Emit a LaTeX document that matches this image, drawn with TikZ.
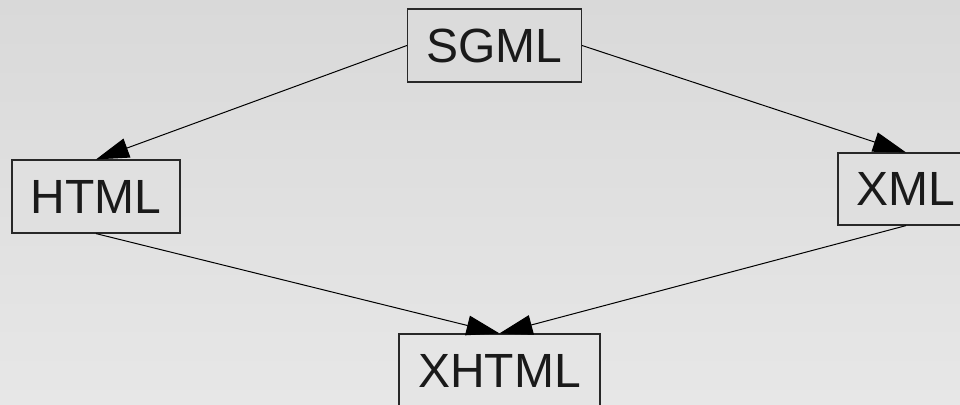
\documentclass[tikz,border=0pt]{standalone}
\usepackage{fontspec}
\setmainfont{Liberation Sans}
\usetikzlibrary{arrows.meta}
\definecolor{bgtop}{RGB}{217,217,217}
\definecolor{bgbot}{RGB}{231,231,231}
\definecolor{boxline}{RGB}{40,40,40}
\definecolor{txt}{RGB}{26,26,26}
\tikzset{
  box/.style={draw=boxline, line width=0.6pt, inner sep=0pt, text=txt,
    font=\fontsize{24}{28}\selectfont},
  conn/.style={draw=black, line width=0.5pt, -{Triangle[length=16.5pt,width=10pt]}}
}
\begin{document}
\begin{tikzpicture}[x=0.5pt,y=-0.5pt]
\shade[top color=bgtop, bottom color=bgbot] (0,0) rectangle (960,404);
\useasboundingbox (0,0) rectangle (960,404);
\node[box, fill={rgb,255:red,219;green,219;blue,219}, minimum width=87pt, minimum height=36.5pt] (sgml) at (494.5,45.5) {SGML};
\node[box, fill={rgb,255:red,224;green,224;blue,224}, minimum width=84pt, minimum height=36.5pt] (html) at (96,196.5) {HTML};
\node[box, fill={rgb,255:red,223;green,223;blue,223}, minimum width=68pt, minimum height=36pt] (xml) at (906,189) {XML};
\node[box, fill={rgb,255:red,229;green,229;blue,229}, minimum width=100.5pt, minimum height=37pt] (xhtml) at (499.5,371) {XHTML};
\draw[conn] (sgml.west) -- (html.north);
\draw[conn] (sgml.east) -- (xml.north);
\draw[conn] (html.south) -- (xhtml.north);
\draw[conn] (xml.south) -- (xhtml.north);
\end{tikzpicture}
\end{document}
